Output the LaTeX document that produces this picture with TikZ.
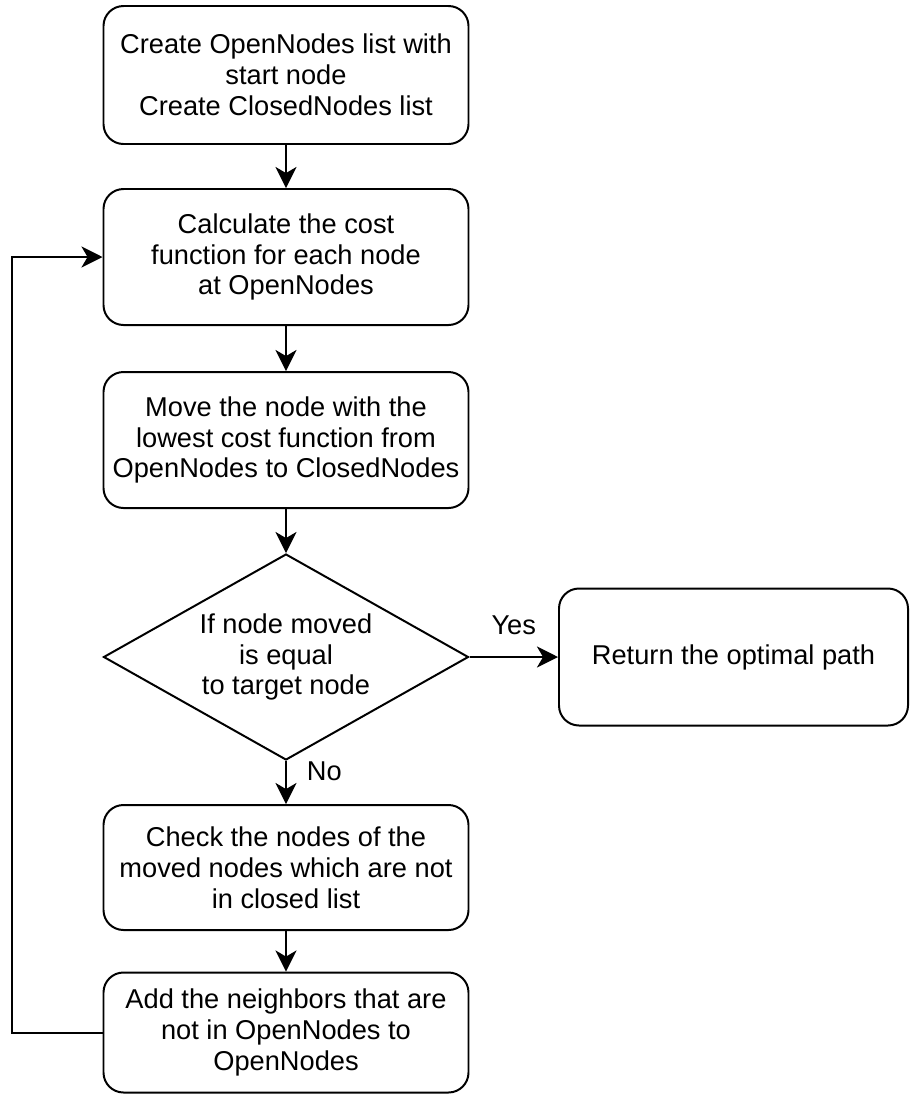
\documentclass[tikz,border=0pt]{standalone}
\usepackage{fontspec}
\setmainfont{Liberation Sans}
\usepackage{tikz}
\usetikzlibrary{arrows.meta}
\usetikzlibrary{shapes.geometric}

\begin{document}
\begin{tikzpicture}[transform shape,scale=1,
	line width=1.13pt,
	font=\fontsize{15.5}{17.6}\selectfont,
	stepbox/.style={draw,rounded corners=0.4cm,align=center,inner sep=0pt,minimum width=7.3cm},
	decision/.style={draw,diamond,aspect=1.77,align=center,inner sep=0pt,minimum width=7.3cm,minimum height=4.12cm},
	flow/.style={-{Stealth[length=12pt,width=12pt,inset=3.5pt]}}]
	\useasboundingbox (0,0) rectangle (18.24,-21.9);
	\node[stepbox,minimum height=2.76cm] (create) at (5.72,-1.50) {Create OpenNodes list with\\start node\\Create ClosedNodes list};
	\node[stepbox,minimum height=2.72cm] (calc) at (5.72,-5.14) {Calculate the cost\\function for each node\\at OpenNodes};
	\node[stepbox,minimum height=2.72cm] (move) at (5.72,-8.80) {Move the node with the\\lowest cost function from\\OpenNodes to ClosedNodes};
	\node[decision] (target) at (5.72,-13.14) {If node moved\\is equal\\to target node};
	\node[stepbox,minimum width=6.98cm,minimum height=2.74cm] (return) at (14.67,-13.14) {Return the optimal path};
	\node[stepbox,minimum height=2.5cm] (check) at (5.72,-17.35) {Check the nodes of the\\moved nodes which are not\\in closed list};
	\node[stepbox,minimum height=2.4cm] (add) at (5.72,-20.65) {Add the neighbors that are\\not in OpenNodes to\\OpenNodes};
	\coordinate (back) at (0.24,-20.65);
	\draw[flow] (create) -- (calc);
	\draw[flow] (calc) -- (move);
	\draw[flow] (move) -- (target);
	\draw[flow] (target) -- node[above=9pt] (yes) {Yes} (return);
	\draw[flow] (target) -- node[pos=0.25,right=8pt] (no) {No} (check);
	\draw[flow] (check) -- (add);
	\draw[flow] (add.west) -- (back) |- (calc.west);
\end{tikzpicture}
\end{document}
